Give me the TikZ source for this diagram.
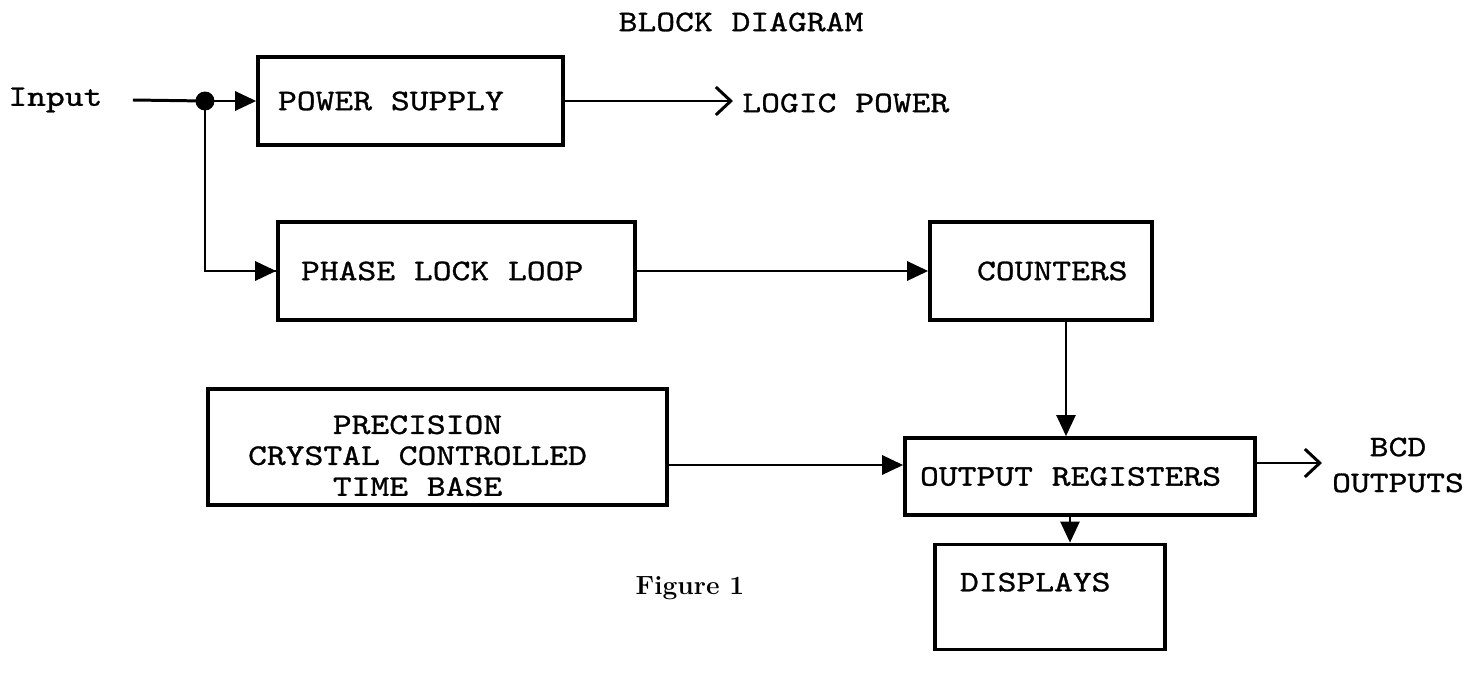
\documentclass[tikz,border=0pt]{standalone}
\usepackage{fontspec}
\setmonofont{lmmono10-regular.otf}[FakeStretch=1.2, FakeBold=1]
\usetikzlibrary{arrows.meta}
\newcommand\tw{\ttfamily\fontsize{17}{17.6}\selectfont}
\newcommand\lft[2]{\makebox[#1][l]{#2}}
\tikzset{
  blk/.style={draw, line width=2.1pt, inner sep=0pt, font=\tw},
  tri/.style={line width=1.7pt, -{Triangle[length=.42cm, width=.38cm]}},
  barb/.style={line width=1.7pt, -{Straight Barb[length=.3cm, width=.56cm, line width=1.7pt]}},
  lbl/.style={inner sep=0pt, font=\tw}
}
\begin{document}
\begin{tikzpicture}[x=.02cm, y=-.02cm]
    \useasboundingbox (0,0) rectangle (1482,679);
    \node[lbl] (title) at (741,22) {BLOCK DIAGRAM};
    \node[lbl, anchor=west] (input) at (8,100) {Input};
    \node[blk, minimum width=6.1cm, minimum height=1.76cm] (ps) at (410.5,101) {\lft{5.3cm}{POWER SUPPLY}};
    \node[blk, minimum width=7.14cm, minimum height=1.96cm] (pll) at (456.5,271) {\lft{6.22cm}{PHASE LOCK LOOP}};
    \node[blk, minimum width=4.44cm, minimum height=1.96cm] (cnt) at (1041,271) {\lft{2.56cm}{COUNTERS}};
    \node[blk, minimum width=9.18cm, minimum height=2.2cm] (prec) at (437.5,447)
      {\begin{tabular}{@{}c@{\hspace{.8cm}}}\rule{0pt}{.9cm}PRECISION\\CRYSTAL CONTROLLED\\TIME BASE\end{tabular}};
    \node[blk, minimum width=7cm, minimum height=1.54cm] (outreg) at (1080,476.5) {\lft{6.4cm}{OUTPUT REGISTERS}};
    \node[blk, minimum width=4.6cm, minimum height=2.1cm, text depth=.6cm] (disp) at (1050,597) {\lft{3.6cm}{DISPLAYS}};
    \node[lbl, anchor=west] (logic) at (742,103) {LOGIC POWER};
    \node[lbl, align=center, font=\ttfamily\fontsize{17}{20.4}\selectfont] (bcd) at (1398,465) {BCD\\OUTPUTS};
    \node[inner sep=0pt, font=\bfseries\fontsize{15}{18}\selectfont] (fig) at (690,588) {Figure 1};
    \coordinate (split) at (205,101);
    \coordinate (lp) at (733,101);
    \coordinate (bo) at (1322,463);
    \coordinate (orin) at ([yshift=.23cm]outreg.west);
    \fill (split) circle (.19cm);
    \draw[line width=1.7pt] ([xshift=.6cm]input.east) -- (split);
    \draw[tri] (split) -- (ps.west);
    \draw[line width=1.3pt] (split) |- (pll.west);
    \draw[tri] (split |- pll.west) ++(1.2cm,0) -- (pll.west);
    \draw[barb] (ps.east |- lp) -- (lp);
    \draw[tri] (pll.east) -- (cnt.west);
    \draw[tri, line width=1.3pt] ([xshift=.5cm]cnt.south) coordinate (c) -- (c |- outreg.north);
    \draw[tri] (prec.east |- orin) -- (orin);
    \draw[barb] (outreg.east |- bo) -- (bo);
    \draw[tri, line width=1.3pt] ([xshift=-.2cm]outreg.south) coordinate (o) -- (o |- disp.north);
\end{tikzpicture}
\end{document}
